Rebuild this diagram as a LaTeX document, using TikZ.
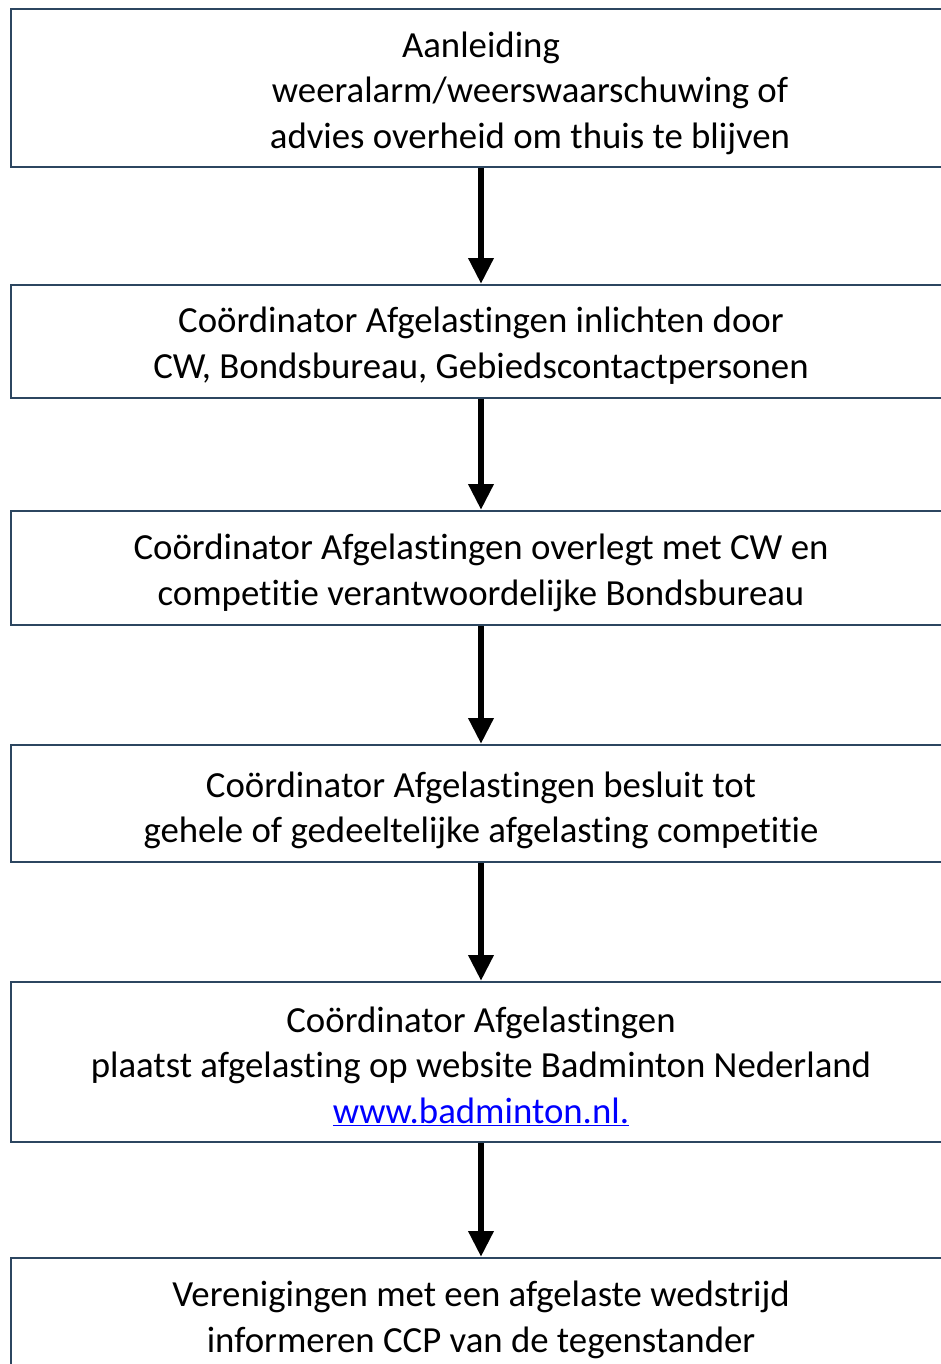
\documentclass[tikz,border=0pt]{standalone}
\usepackage{fontspec}
\setmainfont{Carlito}[Ligatures={NoCommon}]
\usetikzlibrary{arrows.meta}
\definecolor{boxline}{HTML}{2C4660}
\definecolor{linkblue}{HTML}{0000FF}
\tikzset{
  box/.style={draw=boxline, line width=2pt, rectangle, minimum width=940pt, inner sep=0pt},
  txt/.style={align=center, inner sep=0pt, font=\fontsize{36.8}{45.5}\selectfont},
  flow/.style={line width=6.5pt, -{Triangle[width=24pt,length=26pt]}}
}
\begin{document}
\begin{tikzpicture}[x=1pt,y=-1pt]
\useasboundingbox (0,0) rectangle (940,1364);
\node[box, minimum height=158pt] (b1) at (481,88) {};
\node[box, minimum height=113pt] (b2) at (481,341.5) {};
\node[box, minimum height=114pt] (b3) at (481,568) {};
\node[box, minimum height=117pt] (b4) at (481,803.5) {};
\node[box, minimum height=160pt] (b5) at (481,1062) {};
\node[box, minimum height=116pt] (b6) at (481,1316) {};
\node[txt] (t1) at ([yshift=-5pt]b1.center) {Aanleiding\\\hspace*{98pt}weeralarm/weerswaarschuwing of\\\hspace*{98pt}advies overheid om thuis te blijven};
\node[txt] (t2) at ([yshift=-4pt]b2.center) {Coördinator Afgelastingen inlichten door\\CW, Bondsbureau, Gebiedscontactpersonen};
\node[txt] (t3) at ([yshift=-5pt]b3.center) {Coördinator Afgelastingen overlegt met CW en\\competitie verantwoordelijke Bondsbureau};
\node[txt] (t4) at ([yshift=-7pt]b4.center) {Coördinator Afgelastingen besluit tot\\gehele of gedeeltelijke afgelasting competitie};
\node[txt] (t5) at ([yshift=-4pt]b5.center) {Coördinator Afgelastingen\\plaatst afgelasting op website Badminton Nederland\\\textcolor{linkblue}{\underline{www.badminton.nl.}}};
\node[txt] (t6) at ([yshift=-4pt]b6.center) {Verenigingen met een afgelaste wedstrijd\\informeren CCP van de tegenstander};
\draw[flow] (b1.south) -- (b2.north);
\draw[flow] (b2.south) -- (b3.north);
\draw[flow] (b3.south) -- (b4.north);
\draw[flow] (b4.south) -- (b5.north);
\draw[flow] (b5.south) -- (b6.north);
\end{tikzpicture}
\end{document}
